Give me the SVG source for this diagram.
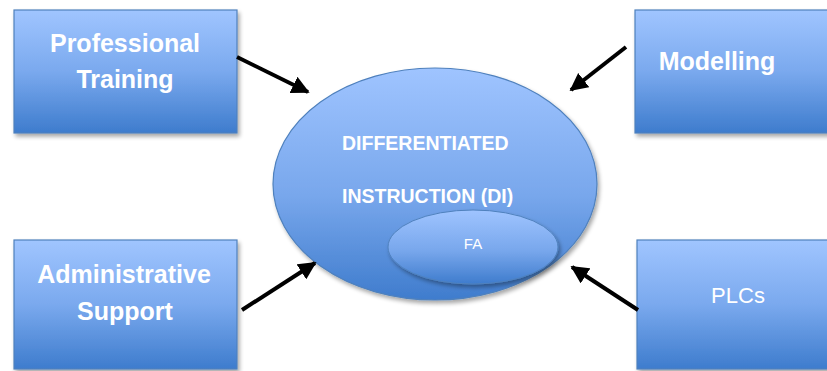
<svg xmlns="http://www.w3.org/2000/svg" width="827" height="371" viewBox="0 0 827 371">
<defs>
<linearGradient id="gb" x1="0" y1="0" x2="0" y2="1">
<stop offset="0" stop-color="#a0c5ff"/>
<stop offset="0.5" stop-color="#7aa9ee"/>
<stop offset="1" stop-color="#3e7ccd"/>
</linearGradient>
<linearGradient id="ge" x1="0" y1="0" x2="0" y2="1">
<stop offset="0" stop-color="#9fc4ff"/>
<stop offset="0.55" stop-color="#78a7ec"/>
<stop offset="1" stop-color="#3f7ccd"/>
</linearGradient>
<filter id="sh" x="-10%" y="-10%" width="125%" height="125%">
<feGaussianBlur in="SourceAlpha" stdDeviation="2"/>
<feOffset dx="2" dy="3" result="b"/>
<feComponentTransfer><feFuncA type="linear" slope="0.35"/></feComponentTransfer>
<feMerge><feMergeNode/><feMergeNode in="SourceGraphic"/></feMerge>
</filter>
<marker id="ah" viewBox="0 0 10 10" refX="9" refY="5" markerWidth="4.5" markerHeight="4.5" orient="auto" markerUnits="strokeWidth">
<path d="M0,0 L10,5 L0,10 Z" fill="#000"/>
</marker>
<style>
.box{fill:url(#gb);stroke:#4f81bd;stroke-width:1.2;filter:url(#sh)}
.lbl{font-family:"Liberation Sans",Arial,sans-serif;fill:#fff;font-weight:bold;font-size:25px;text-anchor:middle}
.reg{font-family:"Liberation Sans",Arial,sans-serif;fill:#fff;font-size:22px;text-anchor:middle}
.ci{font-family:"Liberation Sans",Arial,sans-serif;fill:#fff;font-weight:bold;font-size:19.5px}
.con{stroke:#000;stroke-width:4;fill:none;marker-end:url(#ah)}
</style>
</defs>
<rect width="827" height="371" fill="#fff"/>
<g id="professional-training">
<rect class="box" x="14" y="10" width="223" height="123"/>
<text class="lbl" x="125" y="52">Professional</text>
<text class="lbl" x="125" y="88">Training</text>
</g>
<g id="modelling">
<rect class="box" x="635" y="10" width="200" height="123"/>
<text class="lbl" x="717" y="70">Modelling</text>
</g>
<g id="administrative-support">
<rect class="box" x="14" y="240" width="223" height="129"/>
<text class="lbl" x="124" y="283">Administrative</text>
<text class="lbl" x="125" y="320">Support</text>
</g>
<g id="plcs">
<rect class="box" x="637" y="240" width="200" height="129"/>
<text class="reg" x="738" y="303">PLCs</text>
</g>
<g id="di">
<ellipse cx="435" cy="184" rx="162" ry="116" fill="url(#ge)" stroke="#4f81bd" stroke-width="1.2" filter="url(#sh)"/>
<text class="ci" x="342" y="150">DIFFERENTIATED</text>
<text class="ci" x="342" y="203">INSTRUCTION (DI)</text>
</g>
<g id="fa">
<ellipse cx="473" cy="247" rx="85" ry="37" fill="url(#ge)" stroke="#4f81bd" stroke-width="1" filter="url(#sh)"/>
<text class="reg" x="473" y="249" style="font-size:15px">FA</text>
</g>
<g id="connectors">
<line class="con" x1="237" y1="57" x2="308" y2="92"/>
<line class="con" x1="626" y1="47" x2="571" y2="90"/>
<line class="con" x1="242" y1="310" x2="315" y2="263"/>
<line class="con" x1="638" y1="310" x2="572" y2="267"/>
</g>
</svg>
